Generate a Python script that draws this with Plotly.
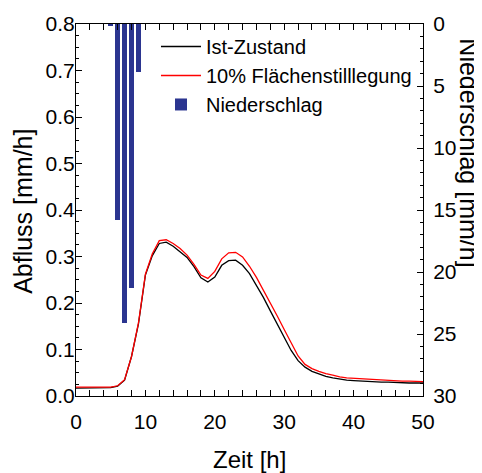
import plotly.graph_objects as go

zeit = list(range(0, 51))
ist_zustand = [0.017, 0.017, 0.017, 0.017, 0.017, 0.018, 0.021, 0.034, 0.085, 0.155,
               0.260, 0.302, 0.328, 0.331, 0.322, 0.311, 0.298, 0.278, 0.254, 0.245,
               0.256, 0.281, 0.291, 0.292, 0.281, 0.263, 0.239, 0.212, 0.183, 0.154,
               0.125, 0.098, 0.076, 0.062, 0.053, 0.047, 0.042, 0.039, 0.036, 0.034,
               0.033, 0.032, 0.031, 0.031, 0.030, 0.030, 0.029, 0.029, 0.028, 0.028, 0.028]
stilllegung = [0.019, 0.019, 0.019, 0.019, 0.019, 0.019, 0.022, 0.035, 0.085, 0.157,
               0.262, 0.306, 0.334, 0.336, 0.328, 0.317, 0.303, 0.283, 0.260, 0.253,
               0.268, 0.295, 0.308, 0.309, 0.299, 0.279, 0.255, 0.228, 0.200, 0.172,
               0.143, 0.113, 0.086, 0.068, 0.059, 0.053, 0.048, 0.045, 0.041, 0.039,
               0.038, 0.037, 0.036, 0.035, 0.034, 0.034, 0.033, 0.032, 0.032, 0.031, 0.031]
regen_zeit = [5, 6, 7, 8, 9]
niederschlag = [0.15, 15.8, 24.1, 21.3, 3.9]

FONT = "Liberation Sans, Arial, Helvetica, sans-serif"

fig = go.Figure()
fig.add_trace(go.Scatter(x=zeit, y=ist_zustand, mode="lines", name="Ist-Zustand",
                         line=dict(color="black", width=1.3)))
fig.add_trace(go.Scatter(x=zeit, y=stilllegung, mode="lines", name="10% Flächenstilllegung",
                         line=dict(color="#ff0000", width=1.3)))
fig.add_trace(go.Bar(x=regen_zeit, y=niederschlag, name="Niederschlag", yaxis="y2",
                     width=0.7, marker=dict(color="#2b3590", line=dict(width=0))))

# the page body adds an 8px margin, so the figure is 8px smaller and margins are shifted
fig.update_layout(
    width=474, height=465,
    margin=dict(l=68, r=59, t=16, b=77, autoexpand=False),
    paper_bgcolor="white", plot_bgcolor="white",
    font=dict(family=FONT, size=21, color="black"),
    showlegend=True,
    legend=dict(x=0.2305, y=0.992, xanchor="left", yanchor="top",
                bgcolor="rgba(0,0,0,0)", font=dict(size=20),
                tracegroupgap=0, itemwidth=40),
    xaxis=dict(range=[0, 50], dtick=10, tick0=0, showline=True, linecolor="black",
               linewidth=1, mirror="allticks", ticks="inside", ticklen=6,
               tickcolor="black", showgrid=False, zeroline=False, automargin=False,
               ticklabelstandoff=7,
               minor=dict(dtick=2, ticks="inside", ticklen=3, tickcolor="black")),
    yaxis=dict(range=[0, 0.8], dtick=0.1, tick0=0, tickformat=".1f", showline=True,
               linecolor="black", linewidth=1, ticks="inside", ticklen=6,
               tickcolor="black", showgrid=False, zeroline=False, automargin=False,
               ticklabelstandoff=-4,
               minor=dict(dtick=0.025, ticks="inside", ticklen=3, tickcolor="black")),
    yaxis2=dict(range=[30, 0], dtick=5, tick0=0, overlaying="y", side="right",
                showline=True, linecolor="black", linewidth=1, ticks="inside",
                ticklen=6, tickcolor="black", showgrid=False, zeroline=False,
                automargin=False, ticklabelstandoff=5,
                minor=dict(dtick=1, ticks="inside", ticklen=3, tickcolor="black")),
    bargap=0,
    annotations=[
        dict(text="Zeit [h]", xref="paper", yref="paper", x=0.5, y=0,
             xanchor="center", yanchor="middle", yshift=-63, showarrow=False,
             font=dict(size=24)),
        dict(text="Abfluss [mm/h]", xref="paper", yref="paper", x=0, y=0.495,
             xanchor="center", yanchor="middle", xshift=-53, textangle=-90,
             showarrow=False, font=dict(size=25)),
        dict(text="Niederschlag [mm/h]", xref="paper", yref="paper", x=1, y=0.655,
             xanchor="center", yanchor="middle", xshift=46, textangle=90,
             showarrow=False, font=dict(size=25)),
    ],
)

fig.write_html("out.html")
